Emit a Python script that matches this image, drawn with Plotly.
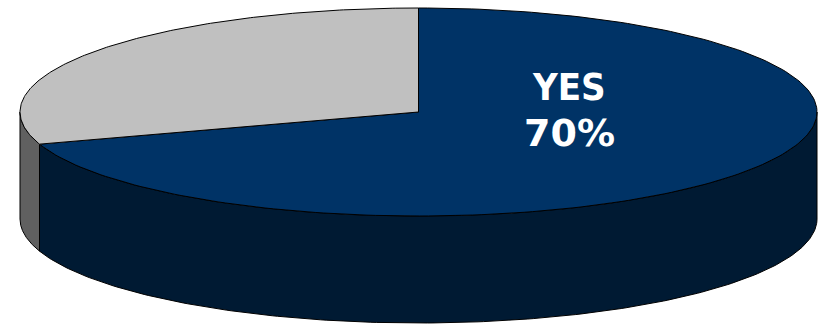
import numpy as np
import plotly.graph_objects as go

# Survey answers
labels = ["YES", "NO"]
values = [70, 30]
top_colors = ["#003366", "#C0C0C0"]
side_colors = ["#001A33", "#606060"]

W, H = 823, 325
# Ellipse of the pie top (pixel space) and the extrusion depth
CX, CY, RX, RY, DEPTH = 418.5, 112.0, 398.5, 104.0, 107.0
LABEL_X, NAME_Y, PCT_Y = 569, 87, 133


def arc(a, b, dy=0.0, n=200):
    """Points on the ellipse from angle a to b (degrees, clockwise from 12 o'clock)."""
    t = np.radians(np.linspace(a, b, n))
    return CX + RX * np.sin(t), CY - RY * np.cos(t) + dy


total = sum(values)
bounds = np.concatenate([[0], np.cumsum(values) / total * 360.0])

fig = go.Figure()

# Front walls (only the part facing the viewer, 90..270 degrees)
for i in range(len(values)):
    lo, hi = max(bounds[i], 90.0), min(bounds[i + 1], 270.0)
    if lo >= hi:
        continue
    xt, yt = arc(lo, hi)
    xb, yb = arc(hi, lo, DEPTH)
    fig.add_trace(go.Scatter(
        x=np.concatenate([xt, xb, xt[:1]]), y=np.concatenate([yt, yb, yt[:1]]),
        mode="lines", fill="toself", fillcolor=side_colors[i],
        line=dict(color="#000000", width=1), hoverinfo="skip"))

# Top faces
for i in range(len(values)):
    xa, ya = arc(bounds[i], bounds[i + 1])
    fig.add_trace(go.Scatter(
        x=np.concatenate([[CX], xa, [CX]]), y=np.concatenate([[CY], ya, [CY]]),
        mode="lines", fill="toself", fillcolor=top_colors[i],
        line=dict(color="#000000", width=1),
        name=labels[i], hoverinfo="name"))

# Label of the largest slice: name above, share below
fig.add_annotation(
    x=LABEL_X, y=NAME_Y, xref="x", yref="y", text=f"<b>{labels[0]}</b>",
    showarrow=False, font=dict(family="DejaVu Sans Condensed", size=38, color="#FFFFFF"))
fig.add_annotation(
    x=LABEL_X, y=PCT_Y, xref="x", yref="y",
    text=f"<b>{round(values[0] / total * 100)}%</b>",
    showarrow=False, font=dict(family="DejaVu Sans", size=38, color="#FFFFFF"))

fig.update_layout(
    width=W, height=H, margin=dict(l=0, r=0, t=0, b=0),
    paper_bgcolor="#FFFFFF", plot_bgcolor="#FFFFFF", showlegend=False,
    xaxis=dict(range=[0, W], visible=False, fixedrange=True),
    yaxis=dict(range=[H, 0], visible=False, fixedrange=True),
)

fig.write_html("out.html")
